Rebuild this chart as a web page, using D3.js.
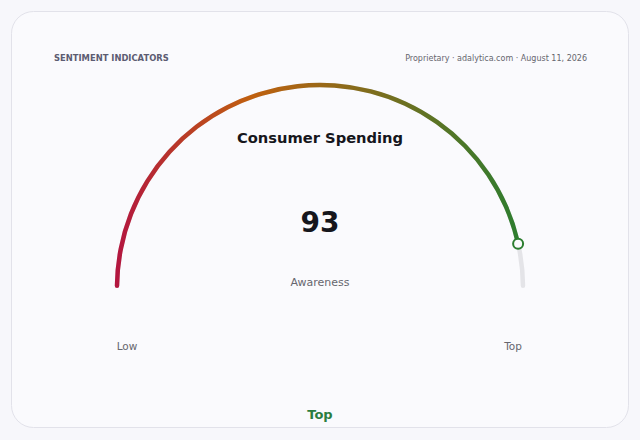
<!DOCTYPE html>
<html>
<head>
<meta charset="utf-8">
<script src="https://cdn.jsdelivr.net/npm/d3@7"></script>
<style>
  html, body { margin: 0; padding: 0; background: #f7f7fb; }
  svg { display: block; font-family: "DejaVu Sans", sans-serif; }
</style>
</head>
<body>
<svg id="vis"></svg>
<script>
// Datos del gauge
const TITLE = "Consumer Spending";
const KICKER = "SENTIMENT INDICATORS";
const SOURCE = "Proprietary · adalytica.com · August 11, 2026";
const VALUE = [93];
const DOMAIN = [0, 100];
const SUBLABEL = "Awareness";
const END_LABELS = ["Low", "Top"];
const BAND_LABEL = "Top";
const GRADIENT_COLORS = ["#b3163f", "#c0600f", "#2b7d2f"];
const GRADIENT_STOPS = [0, 0.33, 1];

const WIDTH = 640;
const HEIGHT = 440;
const CX = 320;
const CY = 288;
const RADIUS = 203;
const STROKE = 4.5;

const svg = d3.select("#vis").attr("width", WIDTH).attr("height", HEIGHT);

// Tarjeta de fondo
svg.append("rect")
    .attr("x", 11.5).attr("y", 11.5)
    .attr("width", 617).attr("height", 416)
    .attr("rx", 22)
    .attr("fill", "#fafafd")
    .attr("stroke", "#e2e2ea");

svg.append("text")
    .attr("x", 54).attr("y", 61)
    .attr("font-size", 8.4).attr("font-weight", "bold")
    .attr("fill", "#5c5c72")
    .text(KICKER);

svg.append("text")
    .attr("x", 587).attr("y", 61)
    .attr("text-anchor", "end")
    .attr("font-size", 8)
    .attr("fill", "#66666e")
    .text(SOURCE);

// Escala de valor a angulo
const angulo = d3.scaleLinear().domain(DOMAIN).range([-Math.PI / 2, Math.PI / 2]);

// Gradiente horizontal (coordenadas relativas al centro del gauge)
const grad = svg.append("defs").append("linearGradient")
    .attr("id", "gaugeGrad")
    .attr("gradientUnits", "userSpaceOnUse")
    .attr("x1", -RADIUS).attr("y1", 0)
    .attr("x2", RADIUS).attr("y2", 0);
grad.selectAll("stop")
    .data(GRADIENT_COLORS)
    .join("stop")
    .attr("offset", (d, i) => GRADIENT_STOPS[i])
    .attr("stop-color", d => d);

const arco = d3.arc()
    .innerRadius(RADIUS - STROKE / 2)
    .outerRadius(RADIUS + STROKE / 2)
    .cornerRadius(STROKE / 2);

const g = svg.append("g").attr("transform", `translate(${CX},${CY})`);

// Pista gris
g.append("path")
    .attr("d", arco({ startAngle: angulo(DOMAIN[0]), endAngle: angulo(DOMAIN[1]) }))
    .attr("fill", "#e4e4e8");

// Arco de valor
g.selectAll("path.valor")
    .data(VALUE)
    .join("path")
    .attr("class", "valor")
    .attr("d", d => arco({ startAngle: angulo(DOMAIN[0]), endAngle: angulo(d) }))
    .attr("fill", "url(#gaugeGrad)");

// Marcador
g.selectAll("circle.marker")
    .data(VALUE)
    .join("circle")
    .attr("class", "marker")
    .attr("cx", d => RADIUS * Math.sin(angulo(d)))
    .attr("cy", d => -RADIUS * Math.cos(angulo(d)))
    .attr("r", 5)
    .attr("fill", "#fafafd")
    .attr("stroke", GRADIENT_COLORS[2])
    .attr("stroke-width", 2);

svg.append("text")
    .attr("x", CX).attr("y", 143)
    .attr("text-anchor", "middle")
    .attr("font-size", 14.7).attr("font-weight", "bold")
    .attr("fill", "#16161c")
    .text(TITLE);

svg.append("text")
    .attr("x", CX).attr("y", 232)
    .attr("text-anchor", "middle")
    .attr("font-size", 28).attr("font-weight", "bold")
    .attr("fill", "#16161c")
    .text(VALUE[0]);

svg.append("text")
    .attr("x", CX).attr("y", 286)
    .attr("text-anchor", "middle")
    .attr("font-size", 11)
    .attr("fill", "#66666e")
    .text(SUBLABEL);

svg.selectAll("text.end")
    .data(END_LABELS)
    .join("text")
    .attr("class", "end")
    .attr("x", (d, i) => i === 0 ? 127 : 513)
    .attr("y", 350)
    .attr("text-anchor", "middle")
    .attr("font-size", 10.5)
    .attr("fill", "#66666e")
    .text(d => d);

svg.append("text")
    .attr("x", CX).attr("y", 419)
    .attr("text-anchor", "middle")
    .attr("font-size", 13).attr("font-weight", "bold")
    .attr("fill", "#2b7d3f")
    .text(BAND_LABEL);
</script>
</body>
</html>
